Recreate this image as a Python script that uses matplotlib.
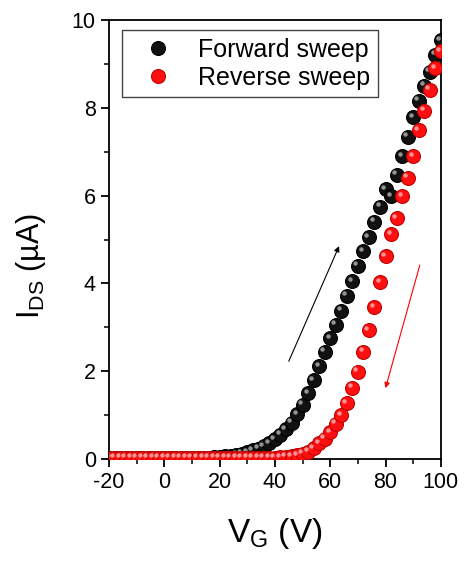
import matplotlib
matplotlib.use("Agg")
import matplotlib.pyplot as plt
import matplotlib.transforms as mtransforms
from matplotlib.ticker import MultipleLocator

plt.rcParams['font.family'] = ['Liberation Sans', 'DejaVu Sans']
plt.rcParams['mathtext.default'] = 'regular'
plt.rcParams['axes.unicode_minus'] = False

# gate voltage (V), 2 V steps
vg = list(range(-20, 101, 2))

# forward sweep I_DS (uA)
i_fwd = [0.03] * 19 + [0.05, 0.06, 0.07, 0.08, 0.10, 0.13, 0.16, 0.20, 0.24, 0.30,
                       0.37, 0.46, 0.56, 0.68, 0.83, 1.02, 1.24, 1.50, 1.80, 2.12,
                       2.45, 2.75, 3.06, 3.38, 3.72, 4.05, 4.40, 4.73, 5.05, 5.40,
                       5.75, 6.15, 5.99, 6.47, 6.90, 7.34, 7.78, 8.16, 8.50, 8.82,
                       9.20, 9.54]

# reverse sweep I_DS (uA)
i_rev = [0.03] * 31 + [0.05, 0.06, 0.07, 0.09, 0.12, 0.17, 0.25, 0.36, 0.47, 0.62,
                       0.81, 1.00, 1.27, 1.63, 1.99, 2.45, 2.94, 3.46, 4.03, 4.62,
                       5.12, 5.48, 5.99, 6.41, 6.90, 7.49, 7.93, 8.41, 8.90, 9.28]

fig = plt.figure(figsize=(4.66, 5.67), dpi=100)
ax = fig.add_axes([0.234, 0.190, 0.712, 0.775])

def balls(x, y, color, shade, label, z):
    ax.plot(x, y, 'o', ms=10, mfc=color, mec=shade, mew=0.8, label=label, zorder=z)
    off = mtransforms.ScaledTranslation(-1.8 / 72, 1.8 / 72, fig.dpi_scale_trans)
    ax.plot(x, y, 'o', ms=3.2, mfc='white', mec='none', alpha=0.55,
            transform=ax.transData + off, zorder=z + 0.5)

balls(vg, i_fwd, '#111111', '#000000', 'Forward sweep', 3)
balls(vg, i_rev, '#ff1010', '#c00000', 'Reverse sweep', 4)

# sweep direction arrows
ax.annotate('', xy=(63.2, 4.85), xytext=(45.0, 2.23),
            arrowprops=dict(arrowstyle='-|>', color='black', lw=0.8,
                            mutation_scale=8, shrinkA=0, shrinkB=0))
ax.annotate('', xy=(80.0, 1.62), xytext=(92.4, 4.42),
            arrowprops=dict(arrowstyle='-|>', color='red', lw=0.8,
                            mutation_scale=8, shrinkA=0, shrinkB=0))

ax.set_xlim(-20, 100)
ax.set_ylim(0, 10)
ax.xaxis.set_major_locator(MultipleLocator(20))
ax.xaxis.set_minor_locator(MultipleLocator(10))
ax.yaxis.set_major_locator(MultipleLocator(2))
ax.yaxis.set_minor_locator(MultipleLocator(1))
ax.tick_params(which='major', direction='out', length=6, width=1.3, labelsize=15.5)
ax.tick_params(which='minor', direction='out', length=3.5, width=1.1)
for s in ax.spines.values():
    s.set_linewidth(1.3)

ax.set_xlabel('V$_G$ (V)', fontsize=24, labelpad=16)
ax.set_ylabel('I$_{DS}$ (µA)', fontsize=22)
ax.yaxis.set_label_coords(-0.185, 0.44)

ax.legend(loc='upper left', fontsize=18, frameon=True, fancybox=False,
          edgecolor='#444444', framealpha=1, bbox_to_anchor=(0.038, 0.976),
          borderaxespad=0, borderpad=0.3, handletextpad=0.45,
          labelspacing=0.15, handlelength=2.3)

fig.savefig('out.png', dpi=100)
